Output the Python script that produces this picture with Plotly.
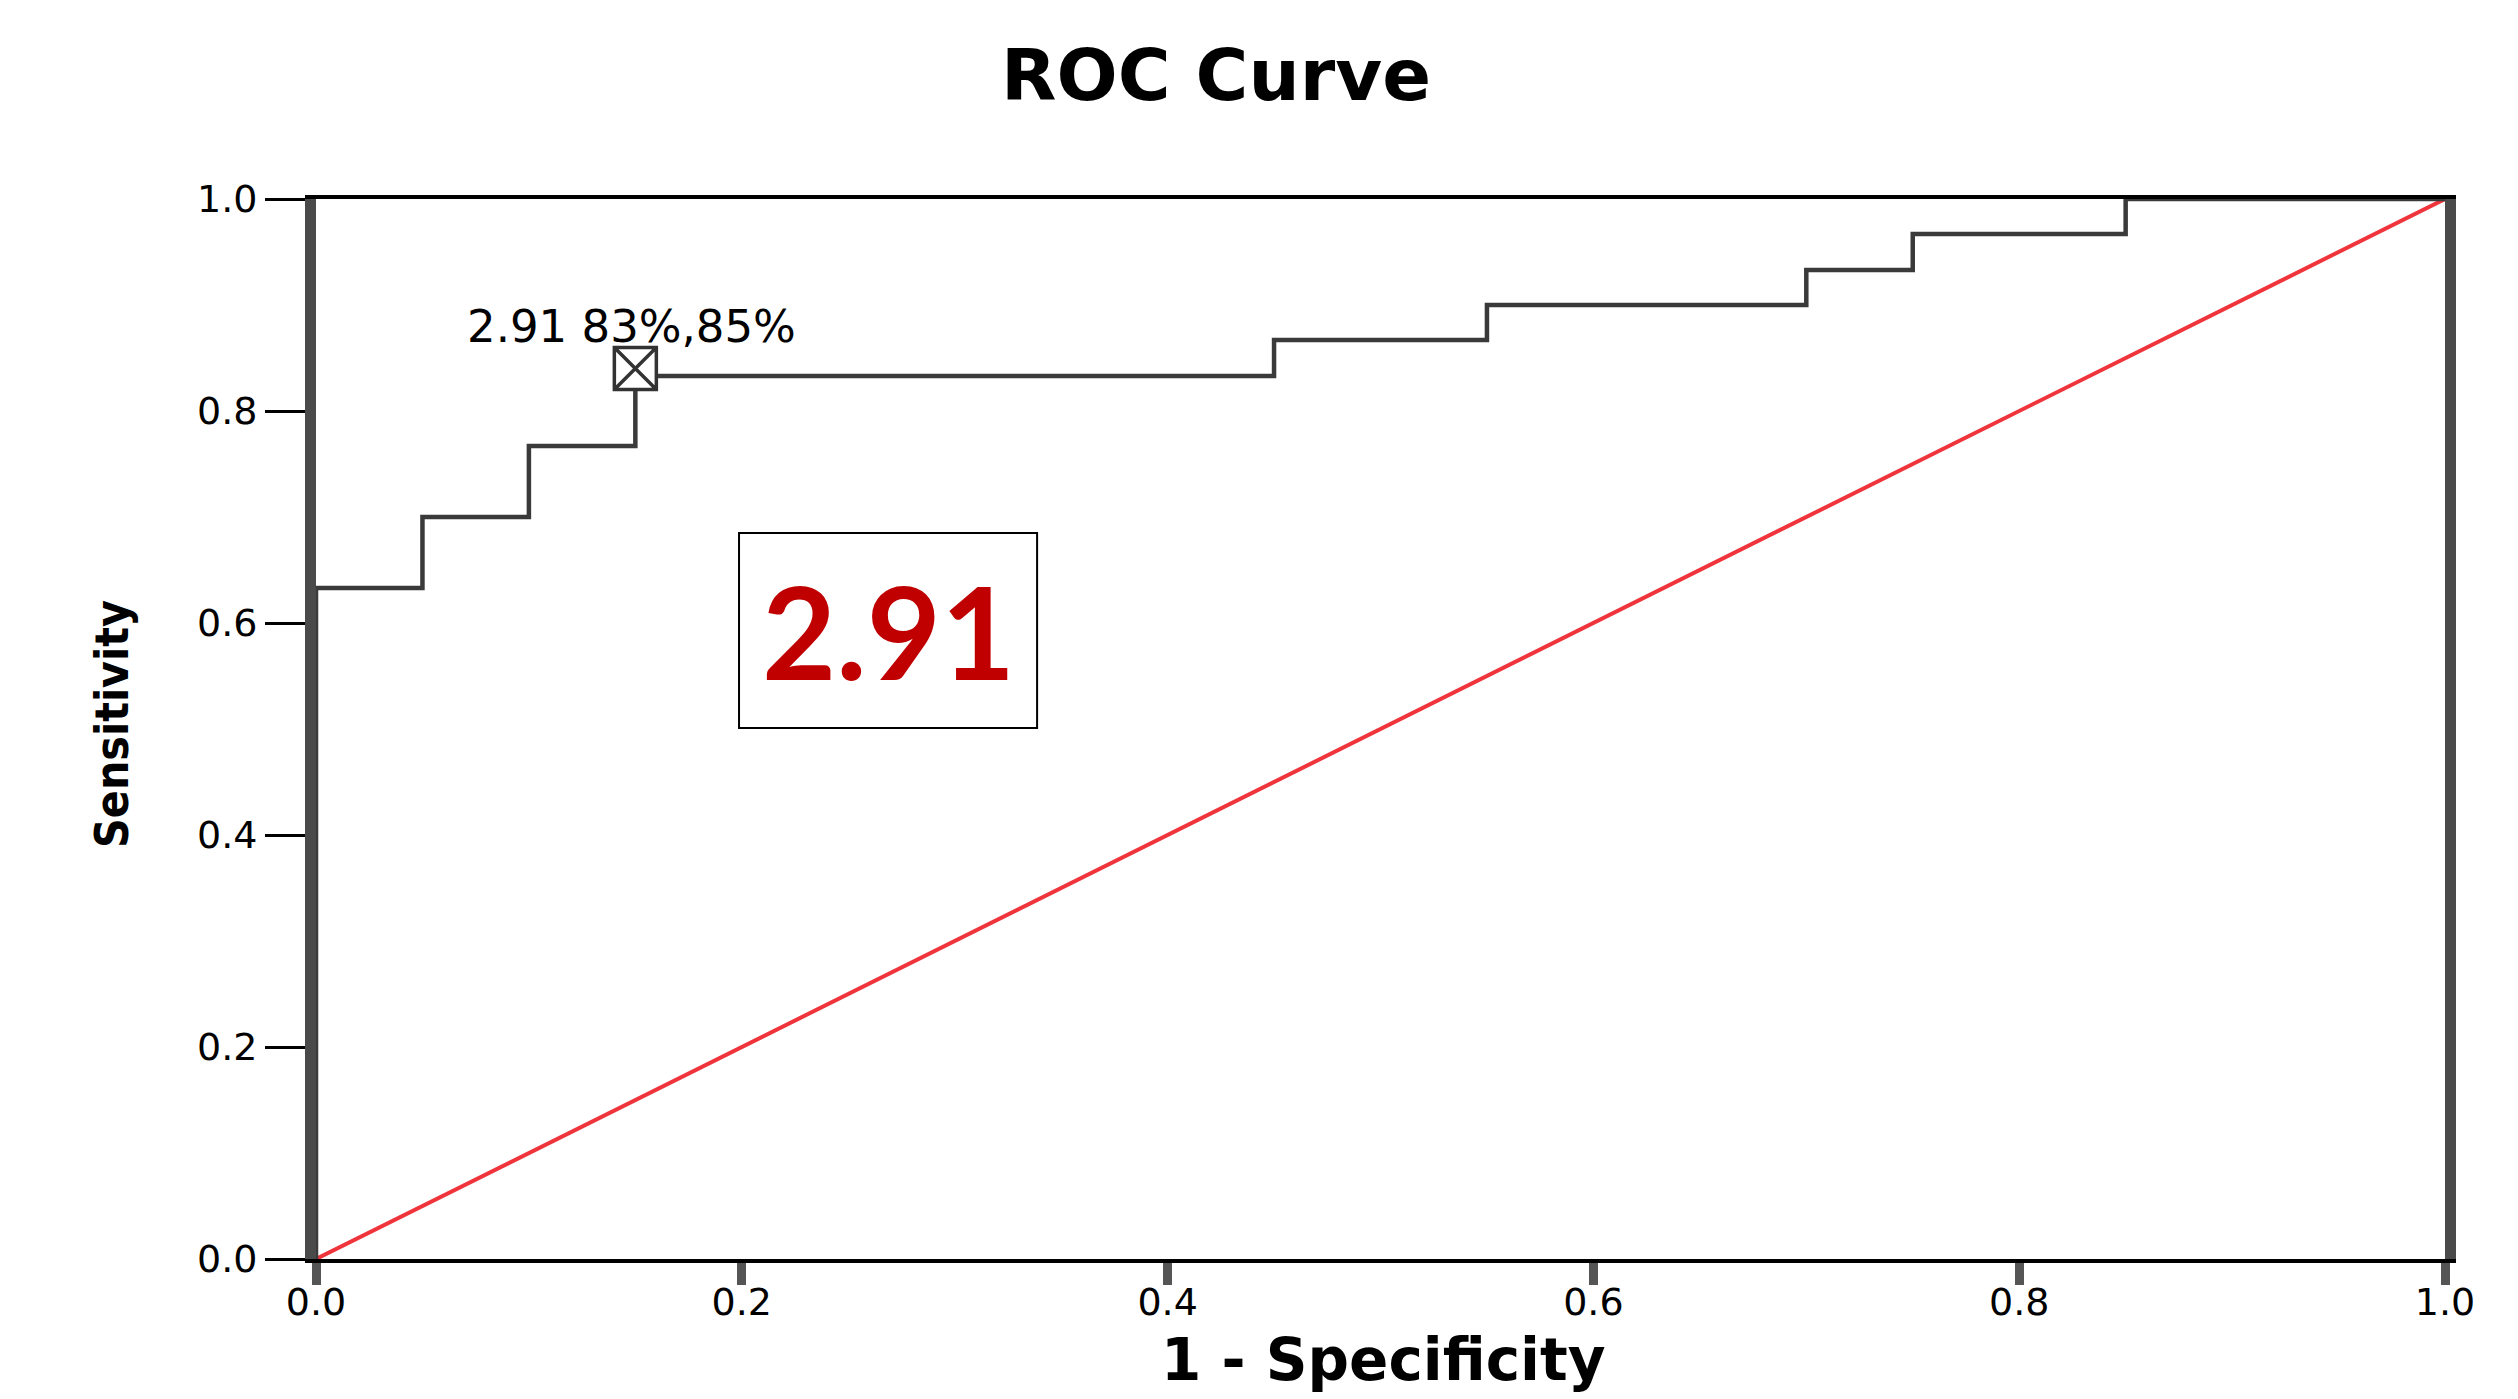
import plotly.graph_objects as go

# ROC curve steps (1 - specificity, sensitivity)
fpr = [0.0, 0.0, 0.05, 0.10, 0.15, 0.45, 0.55, 0.70, 0.75, 0.85, 1.0]
tpr = [0.0, 0.633, 0.700, 0.767, 0.833, 0.867, 0.900, 0.933, 0.967, 1.0, 1.0]

# reference diagonal
ref_x = [0.0, 1.0]
ref_y = [0.0, 1.0]

# cutoff point
cut_x = [0.15]
cut_y = [0.84]
cut_label = "2.91 83%,85%"
box_text = "2.91"

tick_vals = [0.0, 0.2, 0.4, 0.6, 0.8, 1.0]
tick_text = ["0.0", "0.2", "0.4", "0.6", "0.8", "1.0"]

# page has an 8px body margin; size the figure so the plot area lands where wanted
PAGE_OFF = 8
W, H = 2518 - PAGE_OFF, 1399 - PAGE_OFF
L, R, T, B = 316 - PAGE_OFF, 73, 199 - PAGE_OFF, 140
plot_w = W - L - R
plot_h = H - T - B
plot_left_page = L + PAGE_OFF
plot_bottom_page = PAGE_OFF + H - B

fig = go.Figure()

fig.add_trace(go.Scatter(
    x=ref_x, y=ref_y, mode="lines",
    line=dict(color="#F0343C", width=4),
    showlegend=False, hoverinfo="skip",
))

fig.add_trace(go.Scatter(
    x=fpr, y=tpr, mode="lines",
    line=dict(color="#3a3a3a", width=4.5, shape="hv"),
    showlegend=False,
))

fig.add_trace(go.Scatter(
    x=cut_x, y=cut_y, mode="markers",
    marker=dict(symbol="square-x", size=42, color="white",
                line=dict(color="#333333", width=3.5)),
    showlegend=False, cliponaxis=False,
))

# invisible trace to activate the label-only x axis
fig.add_trace(go.Scatter(
    x=ref_x, y=ref_y, mode="lines", xaxis="x2", yaxis="y",
    line=dict(width=0), opacity=0, showlegend=False, hoverinfo="skip",
))

fig.add_annotation(
    x=0.148, y=0.880, xref="x", yref="y",
    text=cut_label, showarrow=False,
    font=dict(family="DejaVu Sans", size=45, color="black"),
    xanchor="center", yanchor="middle",
)

# boxed label
fig.add_shape(type="rect", xref="x", yref="y",
              x0=0.1987, x1=0.3387, y0=0.501, y1=0.685,
              line=dict(color="black", width=2), fillcolor="white", layer="above")
fig.add_annotation(
    x=0.2687, y=0.593, xref="x", yref="y",
    text="<b>" + box_text + "</b>", showarrow=False,
    font=dict(family="Lato, Open Sans", size=128, color="#C00000"),
    xanchor="center", yanchor="middle",
)

# axis titles
fig.add_annotation(
    x=(1383 - plot_left_page) / plot_w, y=(plot_bottom_page - 1360) / plot_h,
    xref="paper", yref="paper",
    text="<b>1 - Specificity</b>", showarrow=False,
    font=dict(family="DejaVu Sans", size=58, color="black"),
    xanchor="center", yanchor="middle",
)
fig.add_annotation(
    x=(112 - plot_left_page) / plot_w, y=(plot_bottom_page - 724) / plot_h,
    xref="paper", yref="paper",
    text="<b>Sensitivity</b>", showarrow=False, textangle=-90,
    font=dict(family="DejaVu Sans Condensed, Liberation Sans Narrow, Roboto Condensed, DejaVu Sans",
              size=46, color="black"),
    xanchor="center", yanchor="middle",
)

fig.update_layout(
    width=W, height=H,
    margin=dict(l=L, r=R, t=T, b=B, autoexpand=False),
    paper_bgcolor="white", plot_bgcolor="white",
    title=dict(
        text="<b>ROC Curve</b>",
        x=(1216 - PAGE_OFF) / W, xref="container", xanchor="center",
        y=1 - (75 - PAGE_OFF) / H, yref="container", yanchor="middle",
        font=dict(family="DejaVu Sans", size=72, color="black"),
    ),
    xaxis=dict(
        range=[0, 1], tickvals=tick_vals, showticklabels=False, automargin=False,
        showgrid=False, zeroline=False,
        showline=True, linecolor="black", linewidth=4, mirror=True,
        ticks="outside", ticklen=22, tickwidth=9, tickcolor="#555555",
    ),
    xaxis2=dict(
        range=[0, 1], tickvals=tick_vals, ticktext=tick_text, automargin=False,
        overlaying="x", anchor="y", side="bottom",
        showgrid=False, zeroline=False, showline=False, ticks="",
        ticklabelstandoff=17,
        tickfont=dict(family="DejaVu Sans", size=38, color="black"),
    ),
    yaxis=dict(
        range=[0, 1], tickvals=tick_vals, ticktext=tick_text, automargin=False,
        showgrid=False, zeroline=False,
        showline=True, linecolor="#4a4a4a", linewidth=11, mirror=True,
        ticks="outside", ticklen=40, tickwidth=3, tickcolor="black",
        tickfont=dict(family="DejaVu Sans", size=38, color="black"),
    ),
)

fig.write_html("out.html")
